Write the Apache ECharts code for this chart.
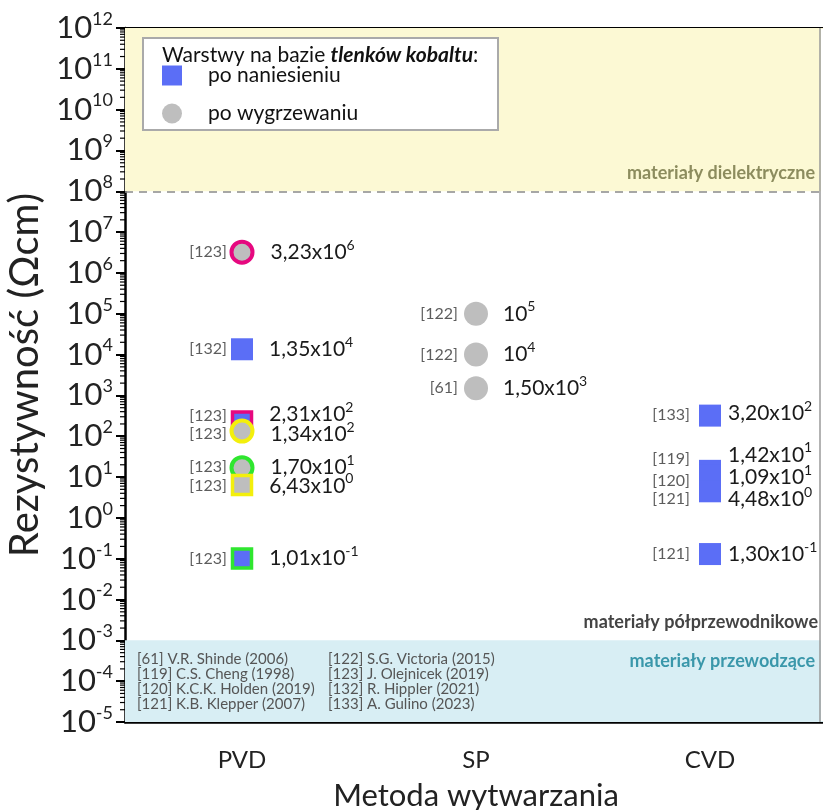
<!DOCTYPE html>
<html>
<head>
<meta charset="utf-8">
<script src="https://cdn.jsdelivr.net/npm/echarts@6/dist/echarts.min.js"></script>
<style>html,body{margin:0;padding:0;background:#fff;}#c{width:823px;height:810px;}</style>
</head>
<body>
<div id="c"></div>
<script>
// ---------- data ----------
const categories = ['PVD', 'SP', 'CVD'];
// as deposited (po naniesieniu)
const asDepCat = ['PVD', 'PVD', 'PVD', 'CVD', 'CVD', 'CVD', 'CVD', 'CVD'];
const asDepVal = [1.35e4, 2.31e2, 1.01e-1, 3.20e2, 1.42e1, 1.09e1, 4.48e0, 1.30e-1];
const asDepRef = ['[132]', '[123]', '[123]', '[133]', '[119]', '[120]', '[121]', '[121]'];
// after annealing (po wygrzewaniu)
const annCat = ['PVD', 'PVD', 'PVD', 'PVD', 'SP', 'SP', 'SP'];
const annVal = [3.23e6, 1.34e2, 1.70e1, 6.43e0, 1e5, 1e4, 1.50e3];
const annRef = ['[123]', '[123]', '[123]', '[123]', '[122]', '[122]', '[61]'];
// regions
const dielectricLimit = 1e8;
const conductorLimit = 1e-3;
const yMin = 1e-5, yMax = 1e12;
// reference list
const refsLeft = ['[61] V.R. Shinde (2006)', '[119] C.S. Cheng (1998)', '[120] K.C.K. Holden (2019)', '[121] K.B. Klepper (2007)'];
const refsRight = ['[122] S.G. Victoria (2015)', '[123] J. Olejnicek (2019)', '[132] R. Hippler (2021)', '[133] A. Gulino (2023)'];

// ---------- styles ----------
const BLUE = '#5b6ef6', GRAY = '#bebebe', PINK = '#e6087f', YEL = '#f3ef0c', GRN = '#2fe62f';
const asDepBorder = [null, PINK, GRN, null, null, null, null, null];
const annBorder = [PINK, YEL, GRN, YEL, null, null, null];
const annSymbol = ['circle', 'circle', 'circle', 'rect', 'circle', 'circle', 'circle'];
const asDepValDy = [0, -7, 0, -2, -16, 2, 8, 0];
const asDepRefDy = [0, -6, 0, -1, -12, 5, 8, 0];
const annValDy = [0, 3, 0, 1, 0, 0, 0];
const annRefDy = [0, 3, -1, 1, 0, 0, 0];
const valDist = { PVD: 16, SP: 15, CVD: 7 };
const refDist = { PVD: 15, SP: 18, CVD: 20 };
const FONT = 'Lato';

function sci(v) {
  const e = Math.floor(Math.log10(v) + 1e-9);
  const m = v / Math.pow(10, e);
  if (Math.abs(m - 1) < 1e-9) return '{m|10}{e|' + e + '}';
  return '{m|' + m.toFixed(2).replace('.', ',') + 'x10}{e|' + e + '}';
}
const valRich = {
  m: { fontSize: 21, fontFamily: FONT, color: '#1a1a1a' },
  e: { fontSize: 14, fontFamily: FONT, color: '#1a1a1a', padding: [0, 0, 14, 0] }
};

const asDepData = asDepVal.map((v, i) => {
  const d = { value: [asDepCat[i], v], label: { offset: [0, asDepValDy[i]], distance: valDist[asDepCat[i]] } };
  if (asDepBorder[i]) { d.symbolSize = 19; d.itemStyle = { borderColor: asDepBorder[i], borderWidth: 3.5 }; }
  return d;
});
const annData = annVal.map((v, i) => {
  const d = { value: [annCat[i], v], symbol: annSymbol[i], label: { offset: [0, annValDy[i]], distance: valDist[annCat[i]] } };
  if (annBorder[i]) {
    d.symbolSize = annSymbol[i] === 'rect' ? 19 : 21;
    d.itemStyle = { borderColor: annBorder[i], borderWidth: annSymbol[i] === 'rect' ? 3.5 : 4 };
  }
  return d;
});
const refData = asDepVal.map((v, i) => ({ value: [asDepCat[i], v], name: asDepRef[i], label: { offset: [0, asDepRefDy[i]], distance: refDist[asDepCat[i]] } }))
  .concat(annVal.map((v, i) => ({ value: [annCat[i], v], name: annRef[i], label: { offset: [0, annRefDy[i]], distance: refDist[annCat[i]] } })));

const bandLabel = (text, pos, color, off) => ({
  show: true, position: pos, distance: 0, offset: off, formatter: text,
  fontSize: 18, fontWeight: 'bold', fontFamily: FONT, color: color
});

const chart = echarts.init(document.getElementById('c'), null, { renderer: 'canvas' });
const option = {
  animation: false,
  backgroundColor: '#fff',
  textStyle: { fontFamily: FONT },
  grid: { left: 125, top: 28, width: 702, height: 694, containLabel: false, outerBoundsMode: 'none' },
  legend: {
    data: ['po naniesieniu', 'po wygrzewaniu'],
    orient: 'vertical', left: 157, top: 60, itemWidth: 20, itemHeight: 20, itemGap: 17,
    selectedMode: false, z: 20,
    textStyle: { fontSize: 21, fontFamily: FONT, color: '#111', padding: [0, 0, 0, 21] }
  },
  xAxis: [{
    type: 'category', data: categories, position: 'bottom',
    axisLine: { lineStyle: { color: '#000', width: 2.5 } },
    axisTick: { alignWithLabel: true, length: 9, lineStyle: { width: 2, color: '#000' } },
    axisLabel: { fontSize: 24, fontFamily: FONT, color: '#222', margin: 26 },
    name: 'Metoda wytwarzania', nameLocation: 'middle', nameGap: 58,
    nameTextStyle: { fontSize: 31, fontFamily: FONT, color: '#222' },
    splitLine: { show: false }
  }, {
    type: 'category', data: categories, position: 'top',
    axisLine: { lineStyle: { color: '#000', width: 2 } },
    axisTick: { show: false }, axisLabel: { show: false }, splitLine: { show: false }
  }],
  yAxis: {
    type: 'log', logBase: 10, min: yMin, max: yMax, interval: 1,
    axisLine: { show: true, lineStyle: { color: '#000', width: 2.5 } },
    axisTick: { show: true, length: 9, lineStyle: { width: 2, color: '#000' } },
    minorTick: { show: false },
    splitLine: { show: false },
    axisLabel: {
      margin: 12,
      formatter: v => '{b|10}{s|' + Math.round(Math.log10(v)) + '}',
      rich: {
        b: { fontSize: 31, fontFamily: FONT, color: '#222' },
        s: { fontSize: 18, fontFamily: FONT, color: '#222', padding: [0, 0, 18, 0] }
      }
    },
    name: 'Rezystywność (Ωcm)', nameLocation: 'middle', nameGap: 72,
    nameTextStyle: { fontSize: 40, fontFamily: FONT, color: '#222' }
  },
  graphic: [
    { type: 'rect', shape: { x: 143, y: 38, width: 355, height: 92 }, style: { fill: '#fff', stroke: '#aaaaaa', lineWidth: 2 }, z: 15 },
    { type: 'text', x: 162, y: 55, z: 16, style: {
      text: '{n|Warstwy na bazie }{bi|tlenków kobaltu}{n|:}', verticalAlign: 'middle',
      rich: {
        n: { fontSize: 21, fontFamily: FONT, fill: '#111' },
        bi: { fontSize: 21, fontFamily: FONT, fill: '#111', fontWeight: 'bold', fontStyle: 'italic' }
      } } },
    { type: 'text', x: 137, y: 652, z: 16, style: { text: refsLeft.join('\n'), fontSize: 15, lineHeight: 15, fontFamily: FONT, fill: '#555' } },
    { type: 'text', x: 328, y: 652, z: 16, style: { text: refsRight.join('\n'), fontSize: 15, lineHeight: 15, fontFamily: FONT, fill: '#555' } },
    { type: 'line', shape: { x1: 820, y1: 28, x2: 820, y2: 722 }, style: { stroke: '#9a9a9a', lineWidth: 1.5 }, z: 16 },
    { type: 'rect', shape: { x: 821, y: 29, width: 6, height: 692 }, style: { fill: '#fff' }, z: 2 }
  ],
  series: [
    {
      name: 'refs', type: 'scatter', symbolSize: 0, z: 1, silent: true,
      data: refData,
      label: { show: true, position: 'left', distance: 15, formatter: p => p.name, fontSize: 16, fontFamily: FONT, color: '#333' },
      markArea: {
        silent: true,
        data: [
          [{ yAxis: dielectricLimit, itemStyle: { color: '#fcf9d4' },
             label: bandLabel('materiały dielektryczne', 'insideBottomRight', '#8c8c5e', [-12, -9]) },
           { yAxis: yMax }],
          [{ yAxis: conductorLimit, itemStyle: { color: 'rgba(0,0,0,0)' },
             label: bandLabel('materiały półprzewodnikowe', 'insideBottomRight', '#444', [-9, -9]) },
           { yAxis: dielectricLimit }],
          [{ yAxis: yMin, itemStyle: { color: '#d8eef4' },
             label: bandLabel('materiały przewodzące', 'insideTopRight', '#3a97aa', [-12, 12]) },
           { yAxis: conductorLimit }]
        ]
      },
      markLine: {
        silent: true, symbol: ['none', 'none'],
        lineStyle: { color: '#8a8a8a', type: [8, 6], width: 1.5 },
        label: { show: false },
        data: [{ yAxis: dielectricLimit }, { yAxis: conductorLimit }]
      }
    },
    {
      name: 'po naniesieniu', type: 'scatter', symbol: 'rect', symbolSize: 22, z: 3,
      itemStyle: { color: BLUE, opacity: 1 },
      data: asDepData,
      label: { show: true, position: 'right', formatter: p => sci(p.value[1]), rich: valRich }
    },
    {
      name: 'po wygrzewaniu', type: 'scatter', symbol: 'circle', symbolSize: 24, z: 4,
      itemStyle: { color: GRAY, opacity: 1 },
      data: annData,
      label: { show: true, position: 'right', formatter: p => sci(p.value[1]), rich: valRich }
    },
    {
      name: 'minorTicks', type: 'custom', z: 5, silent: true,
      data: [[0, 1]],
      renderItem: (params, api) => {
        const x0 = params.coordSys.x;
        const children = [];
        for (let n = Math.log10(yMin); n < Math.log10(yMax); n++) {
          for (let k = 2; k <= 9; k++) {
            const y = api.coord([0, k * Math.pow(10, n)])[1];
            children.push({ type: 'line', shape: { x1: x0 - 5, y1: y, x2: x0, y2: y }, style: { stroke: '#000', lineWidth: 1.2 } });
          }
        }
        return { type: 'group', children: children };
      }
    }
  ]
};
chart.setOption(option);
</script>
</body>
</html>
